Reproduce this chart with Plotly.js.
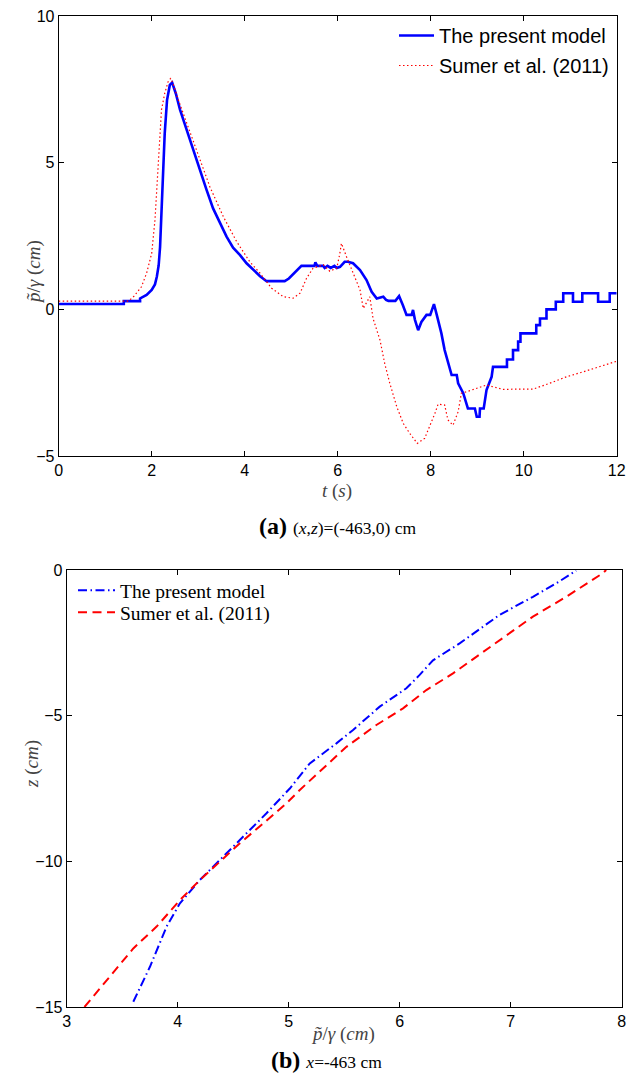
<!DOCTYPE html>
<html>
<head>
<meta charset="utf-8">
<script src="https://cdn.plot.ly/plotly-3.0.1.min.js"></script>
<style>html,body{margin:0;padding:0;background:#fff;}#chart{width:627px;height:1090px;}</style>
</head>
<body>
<div id="chart"></div>
<script>
// ---- Panel (a): time series at (x,z)=(-463,0) cm ----
var modelT = [0,1.40,1.40,1.75,1.75,1.89,2.00,2.07,2.11,2.15,2.18,2.21,2.25,2.28,2.33,2.39,2.44,2.52,2.61,2.75,2.89,3.04,3.18,3.32,3.47,3.61,3.75,3.90,4.04,4.18,4.33,4.47,4.86,4.95,5.05,5.12,5.22,5.50,5.52,5.56,5.69,5.72,5.78,5.85,5.93,5.98,6.05,6.15,6.22,6.33,6.48,6.62,6.73,6.84,6.98,7.04,7.09,7.24,7.32,7.40,7.48,7.59,7.62,7.66,7.73,7.80,7.91,7.99,8.07,8.14,8.23,8.30,8.41,8.45,8.56,8.59,8.70,8.80,8.95,8.99,9.05,9.06,9.14,9.20,9.31,9.34,9.64,9.64,9.77,9.77,9.88,9.88,9.93,9.93,10.27,10.27,10.35,10.35,10.49,10.49,10.69,10.69,10.85,10.85,11.06,11.06,11.26,11.26,11.60,11.60,11.85,11.85,12.00];
var modelP = [0.18,0.18,0.28,0.28,0.37,0.49,0.66,0.85,1.11,1.50,2.13,3.39,4.75,6.00,7.14,7.65,7.73,7.35,6.80,6.11,5.43,4.75,4.07,3.44,2.93,2.48,2.10,1.85,1.57,1.34,1.13,0.96,0.96,1.05,1.20,1.34,1.48,1.48,1.60,1.48,1.48,1.41,1.48,1.41,1.48,1.41,1.45,1.62,1.62,1.57,1.34,1.00,0.60,0.37,0.43,0.32,0.29,0.29,0.45,0.15,-0.19,-0.19,-0.02,-0.35,-0.71,-0.43,-0.19,-0.19,0.18,-0.25,-0.82,-1.39,-1.96,-2.24,-2.24,-2.52,-2.86,-3.38,-3.38,-3.66,-3.66,-3.38,-3.38,-2.75,-2.30,-1.96,-1.96,-1.71,-1.71,-1.39,-1.39,-1.10,-1.10,-0.82,-0.82,-0.54,-0.54,-0.31,-0.31,0,0,0.26,0.26,0.55,0.55,0.26,0.26,0.55,0.55,0.26,0.26,0.55,0.55];

var sumerT = [0,1.50,1.62,1.78,1.89,2.00,2.07,2.14,2.21,2.28,2.35,2.41,2.48,2.57,2.68,2.97,3.25,3.54,3.83,4.11,4.33,4.58,4.83,5.04,5.19,5.33,5.47,5.60,5.69,5.83,5.98,6.04,6.08,6.19,6.33,6.48,6.55,6.69,6.76,6.91,7.01,7.12,7.27,7.41,7.55,7.71,7.87,7.98,8.09,8.16,8.30,8.37,8.48,8.59,8.66,8.77,8.99,9.20,9.34,9.56,9.85,10.20,10.56,10.92,11.28,11.63,12.00];
var sumerP = [0.28,0.28,0.45,0.77,1.23,1.91,3.04,5.09,6.80,7.36,7.75,7.88,7.60,7.15,6.68,5.43,4.18,3.16,2.30,1.62,1.23,0.72,0.43,0.38,0.55,1.06,1.40,1.47,1.52,1.30,1.41,1.85,2.25,1.79,1.23,0.66,0.03,0.43,-0.31,-1.05,-1.84,-2.52,-3.32,-3.89,-4.23,-4.57,-4.40,-4.00,-3.55,-3.23,-3.26,-3.77,-3.95,-3.49,-2.86,-2.81,-2.69,-2.58,-2.64,-2.73,-2.72,-2.72,-2.52,-2.30,-2.13,-1.96,-1.77];

// ---- Panel (b): vertical profile at x=-463 cm ----
var profModelP = [3.60,3.75,3.90,4.02,4.20,4.38,4.59,4.80,5.01,5.19,5.43,5.58,5.82,6.06,6.18,6.30,6.54,6.69,6.90,7.20,7.41,7.59];
var profModelZ = [-14.82,-13.62,-12.24,-11.44,-10.64,-9.96,-9.15,-8.35,-7.50,-6.64,-5.95,-5.49,-4.69,-4.06,-3.60,-3.10,-2.52,-2.12,-1.54,-0.92,-0.46,-0.02];
var profSumerP = [3.16,3.39,3.60,3.81,4.02,4.20,4.38,4.56,4.77,4.98,5.10,5.28,5.52,5.79,6.03,6.24,6.48,6.69,6.90,7.20,7.50,7.83,7.86];
var profSumerZ = [-15.0,-13.96,-12.99,-12.24,-11.33,-10.64,-10.01,-9.38,-8.70,-8.01,-7.55,-6.92,-6.07,-5.32,-4.75,-4.12,-3.55,-2.98,-2.40,-1.60,-0.92,-0.11,0];

var seriesNames = ['The present model', 'Sumer et al. (2011)'];
var xTicksA = [0,2,4,6,8,10,12];
var yTicksA = [-5,0,5,10];
var xTicksB = [3,4,5,6,7,8];
var yTicksB = [-15,-10,-5,0];

var sans = 'Liberation Sans, Arial, sans-serif';
var serif = 'Liberation Serif, Times New Roman, serif';

var traces = [
  {x: modelT, y: modelP, type: 'scatter', mode: 'lines', name: seriesNames[0],
   line: {color: '#0000ff', width: 2.6}, xaxis: 'x', yaxis: 'y', legend: 'legend'},
  {x: sumerT, y: sumerP, type: 'scatter', mode: 'lines', name: seriesNames[1],
   line: {color: '#ff0000', width: 1.2, dash: '1.5px,2.5px'}, xaxis: 'x', yaxis: 'y', legend: 'legend2'},
  {x: profModelP, y: profModelZ, type: 'scatter', mode: 'lines', name: seriesNames[0],
   line: {color: '#0000ff', width: 2, dash: '9px,3.5px,1.5px,3.5px'}, xaxis: 'x2', yaxis: 'y2', legend: 'legend3'},
  {x: profSumerP, y: profSumerZ, type: 'scatter', mode: 'lines', name: seriesNames[1],
   line: {color: '#ff0000', width: 2, dash: '9px,5.5px'}, xaxis: 'x2', yaxis: 'y2', legend: 'legend4'}
];

function ax(extra) {
  var base = {showline: true, linecolor: '#000', linewidth: 1, mirror: 'ticks', ticks: 'inside',
    ticklen: 5, tickcolor: '#000', showgrid: false, zeroline: false,
    tickfont: {family: sans, size: 16, color: '#000'}, fixedrange: true};
  for (var k in extra) base[k] = extra[k];
  return base;
}

function leg(xpx, ypx, font, iw) {
  return {x: xpx/627, y: 1-ypx/1090, xanchor: 'left', yanchor: 'top', bgcolor: 'rgba(0,0,0,0)',
    borderwidth: 0, font: font, itemwidth: iw, tracegroupgap: 0};
}

var layout = {
  width: 627, height: 1090,
  margin: {l: 0, r: 0, t: 0, b: 0},
  paper_bgcolor: '#fff', plot_bgcolor: '#fff',
  showlegend: true,
  xaxis: ax({domain: [58.7/627, 616.7/627], range: [0, 12], tickvals: xTicksA, anchor: 'y'}),
  yaxis: ax({domain: [1-456/1090, 1-16/1090], range: [-5, 10], tickvals: yTicksA, anchor: 'x'}),
  xaxis2: ax({domain: [66.7/627, 621.7/627], range: [3, 8], tickvals: xTicksB, anchor: 'y2'}),
  yaxis2: ax({domain: [1-1007/1090, 1-570/1090], range: [-15, 0], tickvals: yTicksB, anchor: 'x2'}),
  legend: leg(394, 16, {family: sans, size: 20, color: '#000'}, 35),
  legend2: leg(394, 46, {family: sans, size: 20, color: '#000'}, 35),
  legend3: leg(73, 571, {family: serif, size: 19.5, color: '#000'}, 37),
  legend4: leg(73, 593, {family: serif, size: 19.5, color: '#000'}, 37),
  annotations: [
    {text: '<i>p̃</i>/<i>γ</i> (<i>cm</i>)', xref: 'paper', yref: 'paper', x: 21/627, y: 1-238/1090,
     showarrow: false, textangle: -90, font: {family: serif, size: 19, color: '#444'}},
    {text: '<i>t</i> (<i>s</i>)', xref: 'paper', yref: 'paper', x: 337/627, y: 1-491/1090,
     showarrow: false, font: {family: serif, size: 19, color: '#444'}},
    {text: '<b>(a)</b> <span style="font-size:17.5px">(<i>x</i>,<i>z</i>)=(-463,0) cm</span>', xref: 'paper', yref: 'paper',
     x: 337/627, y: 1-526/1090, showarrow: false, font: {family: serif, size: 24, color: '#000'}},
    {text: '<i>z</i> (<i>cm</i>)', xref: 'paper', yref: 'paper', x: 19/627, y: 1-790/1090,
     showarrow: false, textangle: -90, font: {family: serif, size: 19, color: '#444'}},
    {text: '<i>p̃</i>/<i>γ</i> (<i>cm</i>)', xref: 'paper', yref: 'paper', x: 343/627, y: 1-1047/1090,
     showarrow: false, font: {family: serif, size: 19, color: '#444'}},
    {text: '<b>(b)</b> <span style="font-size:17.5px"><i>x</i>=-463 cm</span>', xref: 'paper', yref: 'paper',
     x: 327/627, y: 1-1075/1090, showarrow: false, font: {family: serif, size: 24, color: '#000'}}
  ]
};

Plotly.newPlot('chart', traces, layout, {displayModeBar: false, staticPlot: true});
</script>
</body>
</html>
